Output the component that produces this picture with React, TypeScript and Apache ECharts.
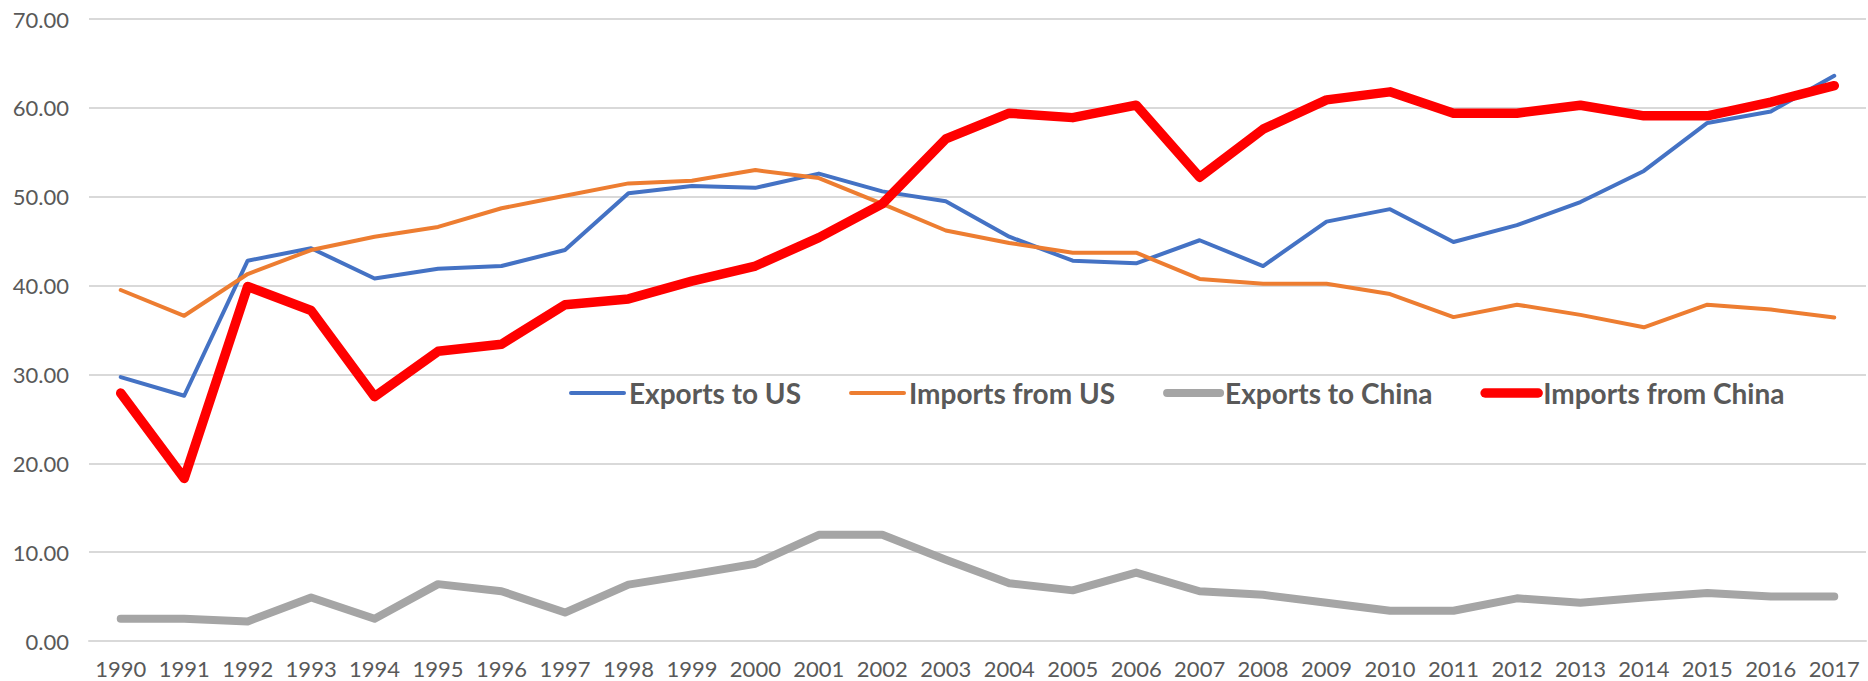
import React, { useEffect, useRef } from "react";
import * as echarts from "echarts";

const years = [
  "1990", "1991", "1992", "1993", "1994", "1995", "1996", "1997", "1998", "1999",
  "2000", "2001", "2002", "2003", "2004", "2005", "2006", "2007", "2008", "2009",
  "2010", "2011", "2012", "2013", "2014", "2015", "2016", "2017",
];

const exportsToUS = [
  29.7, 27.6, 42.8, 44.2, 40.8, 41.9, 42.2, 44.0, 50.4, 51.2,
  51.0, 52.6, 50.6, 49.5, 45.5, 42.8, 42.5, 45.1, 42.2, 47.2,
  48.6, 44.9, 46.8, 49.4, 52.9, 58.3, 59.6, 63.6,
];

const importsFromUS = [
  39.5, 36.6, 41.3, 44.0, 45.5, 46.6, 48.7, 50.1, 51.5, 51.8,
  53.0, 52.1, 49.2, 46.2, 44.8, 43.7, 43.7, 40.75, 40.2, 40.2,
  39.05, 36.45, 37.85, 36.7, 35.3, 37.85, 37.3, 36.4,
];

const exportsToChina = [
  2.5, 2.5, 2.2, 4.9, 2.5, 6.4, 5.6, 3.2, 6.35, 7.5,
  8.7, 11.95, 11.95, 9.15, 6.5, 5.7, 7.7, 5.6, 5.2, 4.3,
  3.4, 3.4, 4.8, 4.3, 4.9, 5.4, 5.0, 5.0,
];

const importsFromChina = [
  27.9, 18.3, 39.9, 37.2, 27.5, 32.6, 33.4, 37.85, 38.5, 40.5,
  42.2, 45.4, 49.2, 56.5, 59.4, 58.9, 60.3, 52.2, 57.6, 60.9,
  61.8, 59.4, 59.4, 60.3, 59.1, 59.1, 60.65, 62.5,
];

const seriesNames = ["Exports to US", "Imports from US", "Exports to China", "Imports from China"];
const seriesColors = ["#4472C4", "#ED7D31", "#A5A5A5", "#FF0000"];
const seriesWidths = [4, 4, 8, 9.5];

export default function App() {
  const ref = useRef<HTMLDivElement>(null);

  useEffect(() => {
    if (!ref.current) return;
    const chart = echarts.init(ref.current, null, { renderer: "svg" });
    const dataSets = [exportsToUS, importsFromUS, exportsToChina, importsFromChina];
    chart.setOption({
      animation: false,
      backgroundColor: "#ffffff",
      grid: { left: 89, right: 2, top: 19, bottom: 40, containLabel: false },
      legend: {
        left: 564,
        top: 374,
        itemWidth: 53,
        itemHeight: 14,
        itemGap: 48,
        data: seriesNames.map((name, i) => ({
          name,
          itemStyle: { opacity: 0, color: "rgba(0,0,0,0)", borderWidth: 0 },
          lineStyle: { color: seriesColors[i], width: seriesWidths[i], cap: "round" },
        })),
        itemStyle: { opacity: 0, color: "rgba(0,0,0,0)", borderWidth: 0 },
        lineStyle: { width: "inherit", cap: "round" },
        textStyle: {
          color: "#595959",
          fontFamily: "Lato",
          fontWeight: "bold",
          fontSize: 28,
        },
      },
      xAxis: {
        type: "category",
        data: years,
        boundaryGap: true,
        axisLine: { show: true, lineStyle: { color: "#D9D9D9", width: 2 } },
        axisTick: { show: false },
        axisLabel: {
          color: "#595959",
          fontFamily: "Lato",
          fontSize: 22,
          lineHeight: 22,
          margin: 16,
          interval: 0,
        },
        splitLine: { show: false },
      },
      yAxis: {
        type: "value",
        min: 0,
        max: 70,
        interval: 10,
        axisLine: { show: false },
        axisTick: { show: false },
        axisLabel: {
          color: "#595959",
          fontFamily: "Lato",
          fontSize: 22,
          margin: 20,
          formatter: (v: number) => v.toFixed(2),
        },
        splitLine: { show: true, lineStyle: { color: "#D9D9D9", width: 2 } },
      },
      series: seriesNames.map((name, i) => ({
        name,
        type: "line",
        data: dataSets[i],
        symbol: "none",
        showSymbol: false,
        z: 2 + i,
        color: seriesColors[i],
        lineStyle: {
          color: seriesColors[i],
          width: seriesWidths[i],
          cap: "round",
          join: "round",
        },
      })),
    });
    return () => chart.dispose();
  }, []);

  return (
    <div
      ref={ref}
      style={{ position: "absolute", left: 0, top: 0, width: 1868, height: 681 }}
    />
  );
}
